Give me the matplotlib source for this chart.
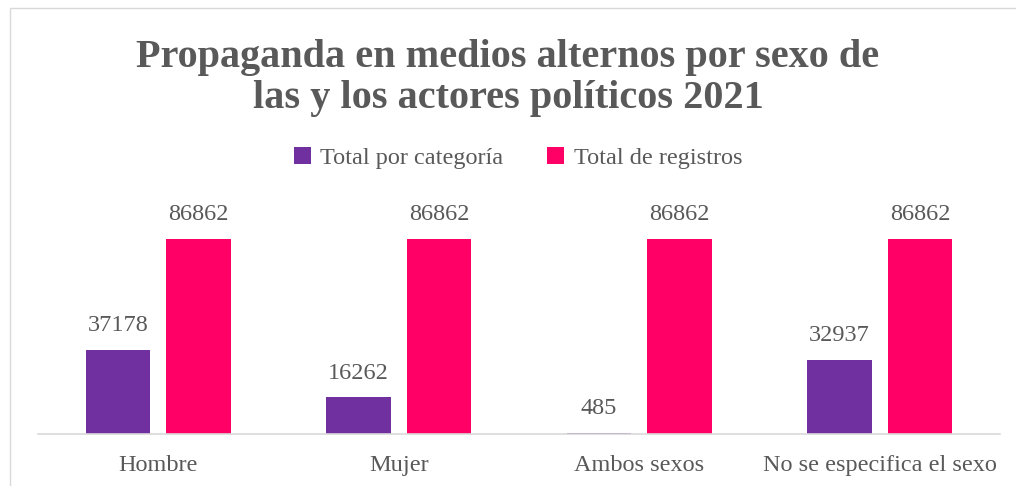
import numpy as np
import matplotlib.pyplot as plt
from matplotlib.patches import Rectangle

# datos
categorias = ['Hombre', 'Mujer', 'Ambos sexos', 'No se especifica el sexo']
total_categoria = [37178, 16262, 485, 32937]
total_registros = [86862, 86862, 86862, 86862]

morado = '#7030A0'
rosa = '#FF0066'
gris = '#595959'

plt.rcParams['font.family'] = ['Liberation Serif', 'DejaVu Serif']

fig = plt.figure(figsize=(10.16, 4.86), dpi=100)
ax = fig.add_axes([38 / 1016, 52 / 486, 962 / 1016, 225 / 486])

x = np.arange(len(categorias))
w = 0.267
b1 = ax.bar(x - 0.167, total_categoria, w, color=morado, label='Total por categoría')
b2 = ax.bar(x + 0.167, total_registros, w, color=rosa, label='Total de registros')

for bars in (b1, b2):
    for r in bars:
        ax.annotate(str(int(r.get_height())), (r.get_x() + r.get_width() / 2, r.get_height()),
                    xytext=(0, 10), textcoords='offset points', ha='center', va='bottom',
                    fontsize=17.5, color=gris)

ax.set_xlim(-0.5, 3.5)
ax.set_ylim(0, 100000)
ax.set_xticks(x)
ax.set_xticklabels(categorias, fontsize=17.5, color=gris)
ax.tick_params(axis='x', length=0, pad=15)
ax.set_yticks([])
for s in ['top', 'right', 'left']:
    ax.spines[s].set_visible(False)
ax.spines['bottom'].set_color('#D9D9D9')
ax.spines['bottom'].set_linewidth(1.2)

fig.text(0.5, 1 - 78 / 486, 'Propaganda en medios alternos por sexo de\nlas y los actores políticos 2021',
         ha='center', va='center', fontsize=29, fontweight='bold', color=gris, linespacing=1.15)

fig.legend(loc='center', bbox_to_anchor=(0.51, 1 - 158 / 486), ncol=2, frameon=False,
           fontsize=17.5, labelcolor=gris, handlelength=0.7, handleheight=0.7,
           handletextpad=0.4, columnspacing=1.8)

fig.add_artist(Rectangle((10 / 1016, -0.01), 1.1, 1 - 8 / 486 + 0.01, transform=fig.transFigure,
                         fill=False, edgecolor='#D9D9D9', linewidth=1))

fig.savefig('out.png', dpi=100)
